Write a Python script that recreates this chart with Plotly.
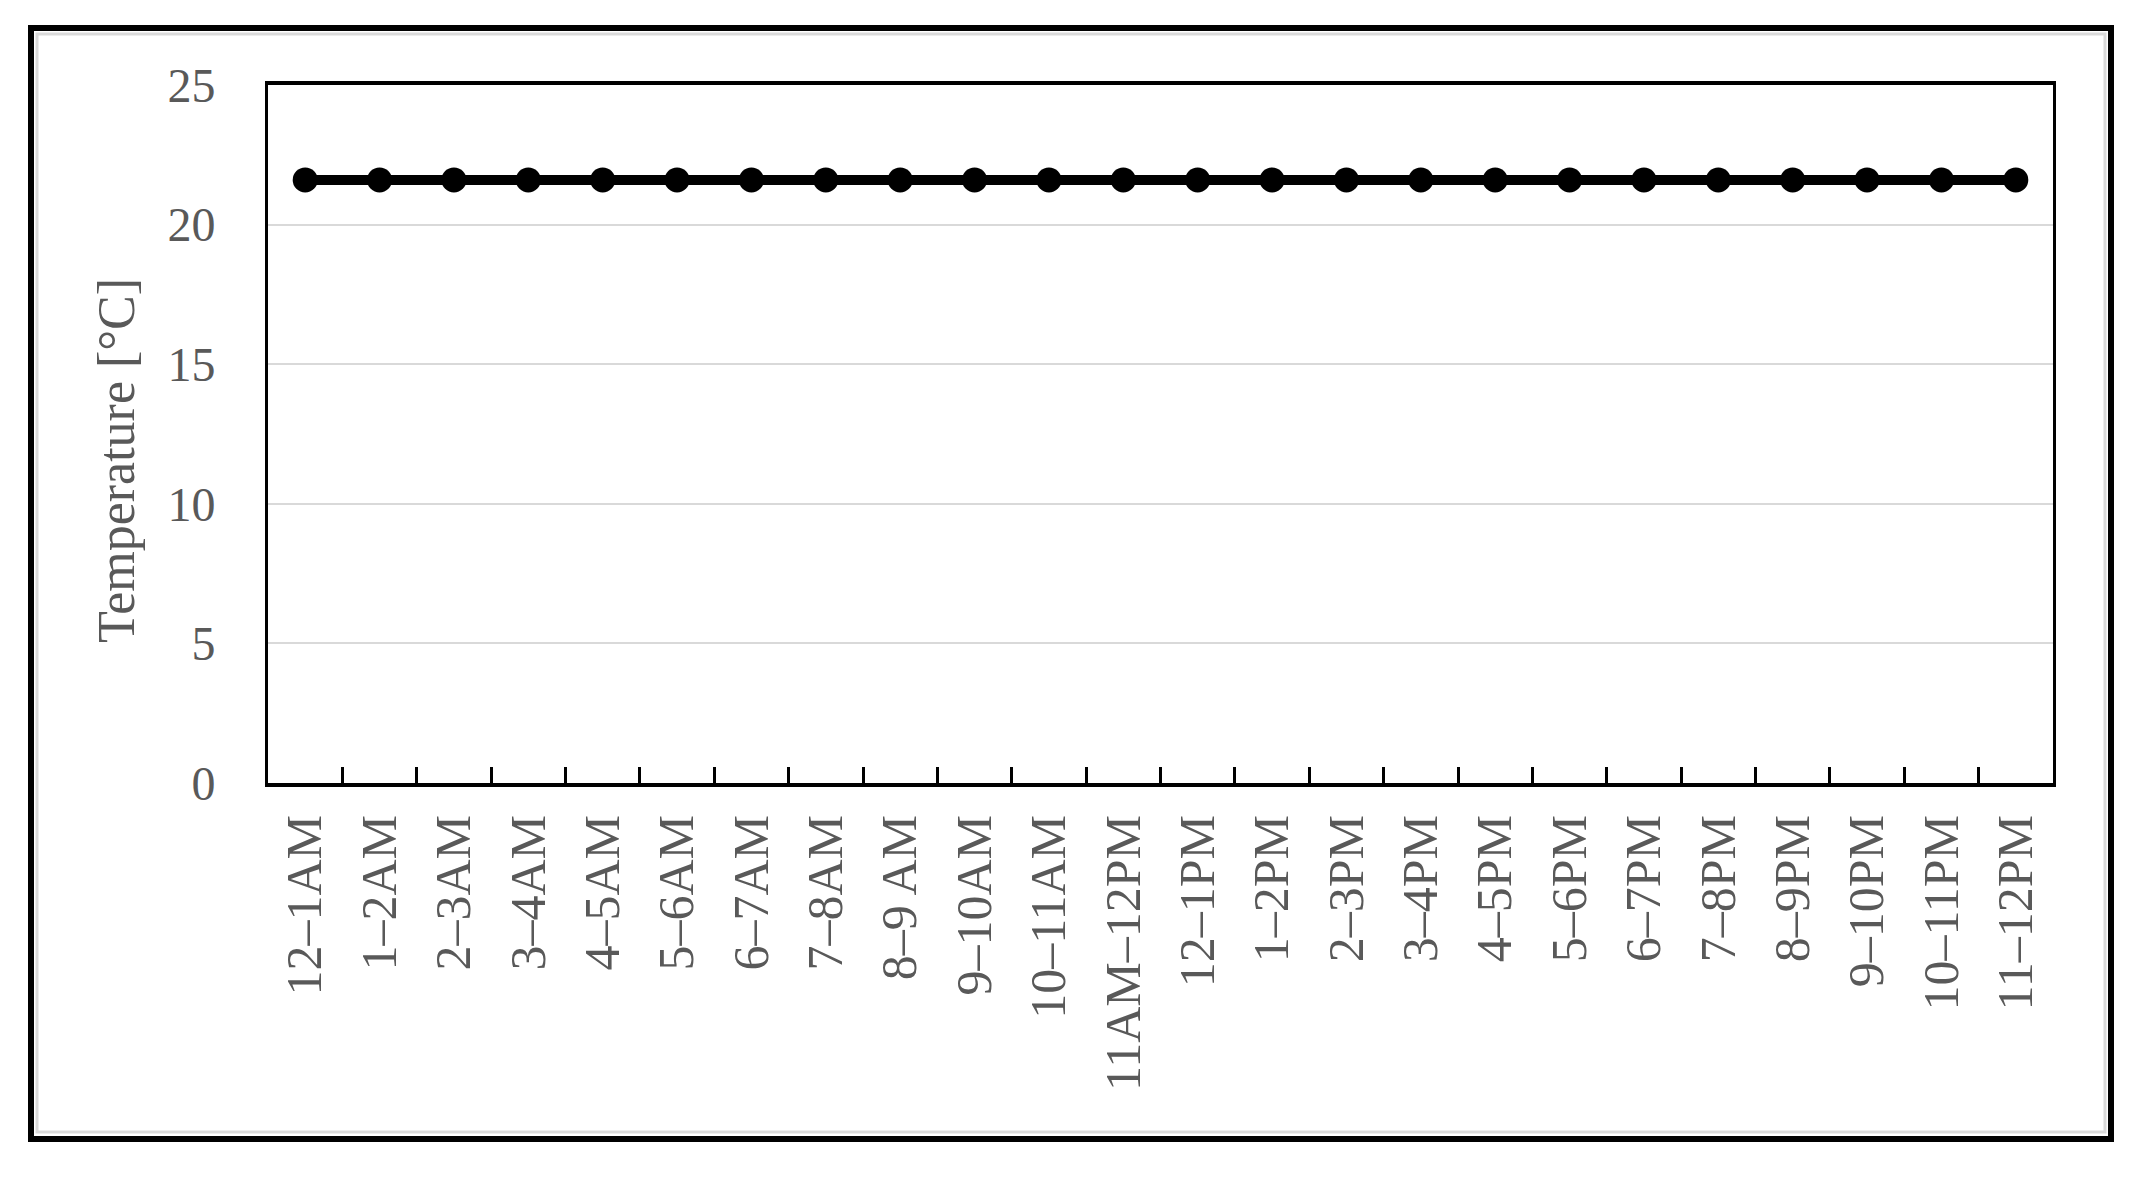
import plotly.graph_objects as go

# hourly intervals and the (constant) indoor temperature
hours = [
    '12–1AM', '1–2AM', '2–3AM', '3–4AM', '4–5AM', '5–6AM', '6–7AM', '7–8AM',
    '8–9 AM', '9–10AM', '10–11AM', '11AM–12PM', '12–1PM', '1–2PM', '2–3PM',
    '3–4PM', '4–5PM', '5–6PM', '6–7PM', '7–8PM', '8–9PM', '9–10PM',
    '10–11PM', '11–12PM',
]
temperature = [21.6] * len(hours)

y_ticks = [0, 5, 10, 15, 20, 25]

W, H = 2144, 1182
OFF = 8  # page body margin shifts the figure
# plot area in pixels (as measured on the reference, minus the page offset)
left, right, top, bottom = 268 - OFF, 2053 - OFF, 85 - OFF, 783 - OFF
pw, ph = right - left, bottom - top


def px_x(x):
    return (x - OFF - left) / pw


def px_y(y):
    return (bottom - (y - OFF)) / ph


font_family = 'Liberation Serif, Times New Roman, serif'
grey_text = '#595959'

fig = go.Figure()

fig.add_trace(go.Scatter(
    x=hours,
    y=temperature,
    mode='lines+markers',
    line=dict(color='black', width=10),
    marker=dict(color='black', size=25),
    showlegend=False,
))

# outer frame (black) and the thin grey inner line of the picture
fig.add_shape(type='rect', xref='paper', yref='paper',
              x0=px_x(37), x1=px_x(2105), y0=px_y(1132), y1=px_y(34),
              line=dict(color='#d9d9d9', width=3), layer='below')
fig.add_shape(type='rect', xref='paper', yref='paper',
              x0=px_x(31), x1=px_x(2111), y0=px_y(1139), y1=px_y(28),
              line=dict(color='black', width=6), layer='below')

# y axis title sits a bit below the plot centre in the original
fig.add_annotation(
    text='Temperature [°C]',
    xref='paper', yref='paper',
    x=px_x(116), y=px_y(461),
    xanchor='center', yanchor='middle',
    textangle=-90,
    showarrow=False,
    font=dict(family=font_family, size=52, color=grey_text),
)

fig.update_xaxes(
    type='category',
    tickson='boundaries',
    ticks='inside',
    ticklen=16,
    tickwidth=3,
    tickcolor='black',
    tickangle=-90,
    tickfont=dict(family=font_family, size=50, color=grey_text),
    ticklabelstandoff=8,
    showline=True,
    linecolor='black',
    linewidth=4,
    mirror=True,
    showgrid=False,
    range=[-0.5, len(hours) - 0.5],
)

fig.update_yaxes(
    range=[0, 25],
    tickvals=y_ticks,
    ticks='',
    tickfont=dict(family=font_family, size=48, color=grey_text),
    ticklabelstandoff=40,
    showline=True,
    linecolor='black',
    linewidth=3,
    mirror=True,
    showgrid=True,
    gridcolor='#d9d9d9',
    gridwidth=2,
    zeroline=False,
)

fig.update_layout(
    width=W,
    height=H,
    margin=dict(l=left, r=W - right, t=top, b=H - bottom, autoexpand=False),
    paper_bgcolor='white',
    plot_bgcolor='white',
)

fig.write_html('out.html')
